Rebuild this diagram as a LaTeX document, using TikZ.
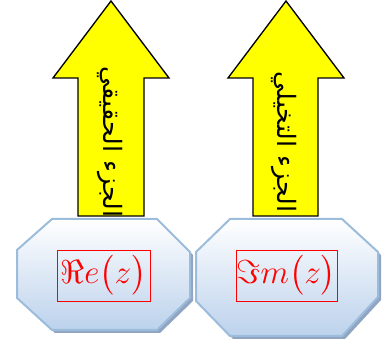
\documentclass[tikz,border=0pt]{standalone}
\usepackage{amsmath,amssymb}
\usepackage{fontspec}
\newfontfamily\arabicfont[Script=Arabic]{DejaVu Sans}
\TeXXeTstate=1
\usetikzlibrary{shadings}
\definecolor{arrowyellow}{RGB}{255,255,0}
\definecolor{octborder}{RGB}{155,188,219}
\definecolor{octbottom}{RGB}{188,210,236}
\definecolor{octshade}{RGB}{145,165,195}
\tikzset{
  uparrow/.style={draw=black, fill=arrowyellow, line width=1pt, line join=miter},
  octbody/.style={draw=octborder, line width=1.5pt, top color=white, bottom color=octbottom},
  octshadow/.style={fill=octshade},
  partlabel/.style={rotate=-90, inner sep=0pt, font=\arabicfont\fontsize{19}{23}\selectfont},
  valuebox/.style={draw=red, line width=0.6pt, text=red, inner sep=0pt,
                   minimum height=38.25pt, font=\fontsize{25}{30}\selectfont},
}
\newcommand{\octpath}{(52,219) -- (157,219) -- (190,252) -- (190,298) -- (157,330) -- (52,330) -- (17,298) -- (17,250) -- cycle}
\newcommand{\octpathb}{(230,219) -- (342,219) -- (378,252) -- (378,297) -- (342,336) -- (230,336) -- (196,301) -- (196,252) -- cycle}

\begin{document}
\begin{tikzpicture}[x=0.75pt, y=-0.75pt]
    \useasboundingbox (0,0) rectangle (382,345);
    % ---------------- left: real part ----------------
    \begin{scope}
      \draw[uparrow] (111,1) -- (169,78) -- (144,78) -- (144,216)
        -- (78,216) -- (78,78) -- (53,78) -- cycle;
      \node[partlabel] (realtext) at (110,142) {\beginR الجزء الحقيقي\endR};
      \fill[octshadow, shift={(3,3)}] \octpath;
      \path[octbody] \octpath;
      \node[valuebox, minimum width=69.75pt] (realbox) at (103.5,275.5)
        {$\Re e\bigl(z\bigr)$};
    \end{scope}
    % ---------------- right: imaginary part ----------------
    \begin{scope}
      \draw[uparrow] (286,1) -- (344,78) -- (318,78) -- (318,216)
        -- (253,216) -- (253,78) -- (228,78) -- cycle;
      \node[partlabel] (imagtext) at (284,142) {\beginR الجزء التخيلي\endR};
      \fill[octshadow, shift={(3,3)}] \octpathb;
      \path[octbody] \octpathb;
      \node[valuebox, minimum width=75.75pt] (imagbox) at (286.5,275.5)
        {$\Im m\bigl(z\bigr)$};
    \end{scope}
\end{tikzpicture}
\end{document}
